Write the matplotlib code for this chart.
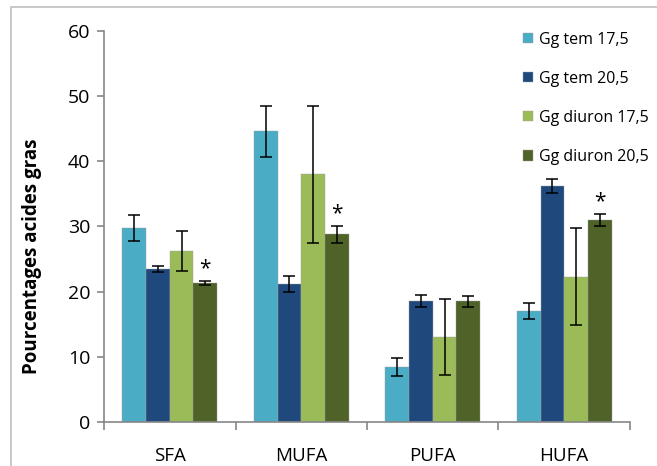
import numpy as np
import matplotlib
matplotlib.use('Agg')
import matplotlib.pyplot as plt
from matplotlib.patches import Rectangle

# data
categories = ['SFA', 'MUFA', 'PUFA', 'HUFA']
series = ['Gg tem 17,5', 'Gg tem 20,5', 'Gg diuron 17,5', 'Gg diuron 20,5']
tem_175 = [29.7, 44.6, 8.4, 17.0]
tem_205 = [23.5, 21.2, 18.6, 36.2]
diu_175 = [26.2, 38.0, 13.0, 22.3]
diu_205 = [21.3, 28.8, 18.5, 31.0]
err_tem_175 = [2.0, 3.9, 1.4, 1.2]
err_tem_205 = [0.5, 1.25, 0.95, 1.05]
err_diu_175 = [3.05, 10.5, 5.85, 7.4]
err_diu_205 = [0.35, 1.3, 0.9, 0.9]
signif = [True, True, False, True]

colors = ['#4BACC6', '#1F497D', '#9BBB59', '#4F6228']
values = [tem_175, tem_205, diu_175, diu_205]
errors = [err_tem_175, err_tem_205, err_diu_175, err_diu_205]

plt.rcParams['font.family'] = ['Open Sans', 'DejaVu Sans']

fig = plt.figure(figsize=(6.57, 4.66), dpi=100)
ax = fig.add_axes([0.1583, 0.0944, 0.8006, 0.8391])

# grey frame around the whole figure
fig.patches.append(Rectangle((0.017, -0.01), 1.0, 0.995, transform=fig.transFigure,
                             fill=False, edgecolor='#BFBFBF', linewidth=1.2))

x = np.arange(len(categories))
w = 0.18
for i in range(4):
    pos = x + (i - 1.5) * w
    ax.bar(pos, values[i], width=w, color=colors[i], label=series[i],
           edgecolor='#A0A0A0', linewidth=0.3)
    ax.errorbar(pos, values[i], yerr=errors[i], fmt='none', ecolor='black',
                elinewidth=1.1, capsize=4, capthick=1.1)

# asterisks over Gg diuron 20,5
for j in range(4):
    if signif[j]:
        xp = x[j] + 1.5 * w
        ax.text(xp, diu_205[j] + err_diu_205[j] + 0.3, '*', ha='center',
                va='bottom', fontsize=15)

ax.set_xlim(-0.5, 3.5)
ax.set_ylim(0, 60)
ax.set_yticks(range(0, 61, 10))
ax.tick_params(axis='y', labelsize=14, length=5, color='#868686', width=1.2, pad=5)
ax.set_xticks(x)
ax.set_xticklabels(categories)
ax.set_xticks(np.arange(-0.5, 4, 1), minor=True)
ax.tick_params(axis='x', which='major', length=0, labelsize=13.5, pad=18)
ax.tick_params(axis='x', which='minor', length=6, color='#868686', width=1.2)

for s in ['top', 'right']:
    ax.spines[s].set_visible(False)
for s in ['left', 'bottom']:
    ax.spines[s].set_color('#868686')
    ax.spines[s].set_linewidth(1.2)

ax.set_ylabel('Pourcentages acides gras', fontsize=13.5, fontweight='bold')
ax.yaxis.set_label_coords(-0.118, 0.425)

ax.legend(loc='upper left', bbox_to_anchor=(0.77, 1.035), frameon=False,
          fontsize=11.5, handlelength=0.6, handleheight=0.6, handletextpad=0.4,
          labelspacing=1.45)

fig.savefig('out.png', dpi=100)
